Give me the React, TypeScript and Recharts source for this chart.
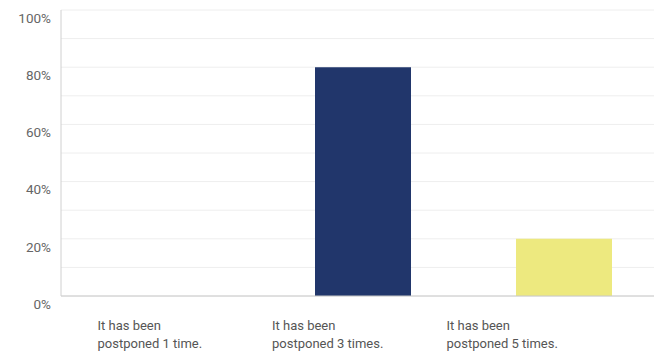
import React from "react";
import { BarChart, Bar, XAxis, YAxis, CartesianGrid, Cell } from "recharts";

const categories = ["It has been postponed 1 time.", "It has been postponed 3 times.", "It has been postponed 5 times."];
const labelLines = [
  ["It has been", "postponed 1 time."],
  ["It has been", "postponed 3 times."],
  ["It has been", "postponed 5 times."],
];
const values = [0, 80, 20];
const colors = ["#21366b", "#21366b", "#ede97f"];
const yTicks = [0, 10, 20, 30, 40, 50, 60, 70, 80, 90, 100];

const data = categories.map((c, i) => ({ name: c, value: values[i] }));

const YTick = (props: any) => {
  const { x, y, payload } = props;
  if (payload.value % 20 !== 0) return null;
  return (
    <text x={x - 2} y={y + 8} dy="0.35em" textAnchor="end" fill="#666" fontSize={13.5} fontFamily="Roboto, sans-serif">
      {payload.value + "%"}
    </text>
  );
};

const XTick = (props: any) => {
  const { x, y, index } = props;
  const lines = labelLines[index] || [];
  const lx = x - 64 - 26.5 * index;
  return (
    <g>
      {lines.map((l, i) => (
        <text key={i} x={lx} y={y + 21 + i * 18} dy="0.35em" textAnchor="start" fill="#555" fontSize={13} fontFamily="Roboto, sans-serif">
          {l}
        </text>
      ))}
    </g>
  );
};

export default function App() {
  return (
    <div style={{ position: "absolute", left: 0, top: 0, width: 654, height: 355, overflow: "hidden", background: "#fff" }}>
      <BarChart width={664} height={355} data={data} margin={{ top: 10, right: 0, left: 0, bottom: 0 }} barSize={96}>
        <CartesianGrid vertical={false} stroke="#eeeeee" />
        <XAxis dataKey="name" height={59} tick={<XTick />} tickLine={false} axisLine={{ stroke: "#c8c8c8" }} interval={0} />
        <YAxis width={61} domain={[0, 100]} ticks={yTicks} interval={0} tick={<YTick />} tickLine={false} axisLine={{ stroke: "#d0d0d0" }} />
        <Bar dataKey="value" isAnimationActive={false}>
          {data.map((d, i) => (
            <Cell key={i} fill={colors[i]} />
          ))}
        </Bar>
      </BarChart>
    </div>
  );
}
